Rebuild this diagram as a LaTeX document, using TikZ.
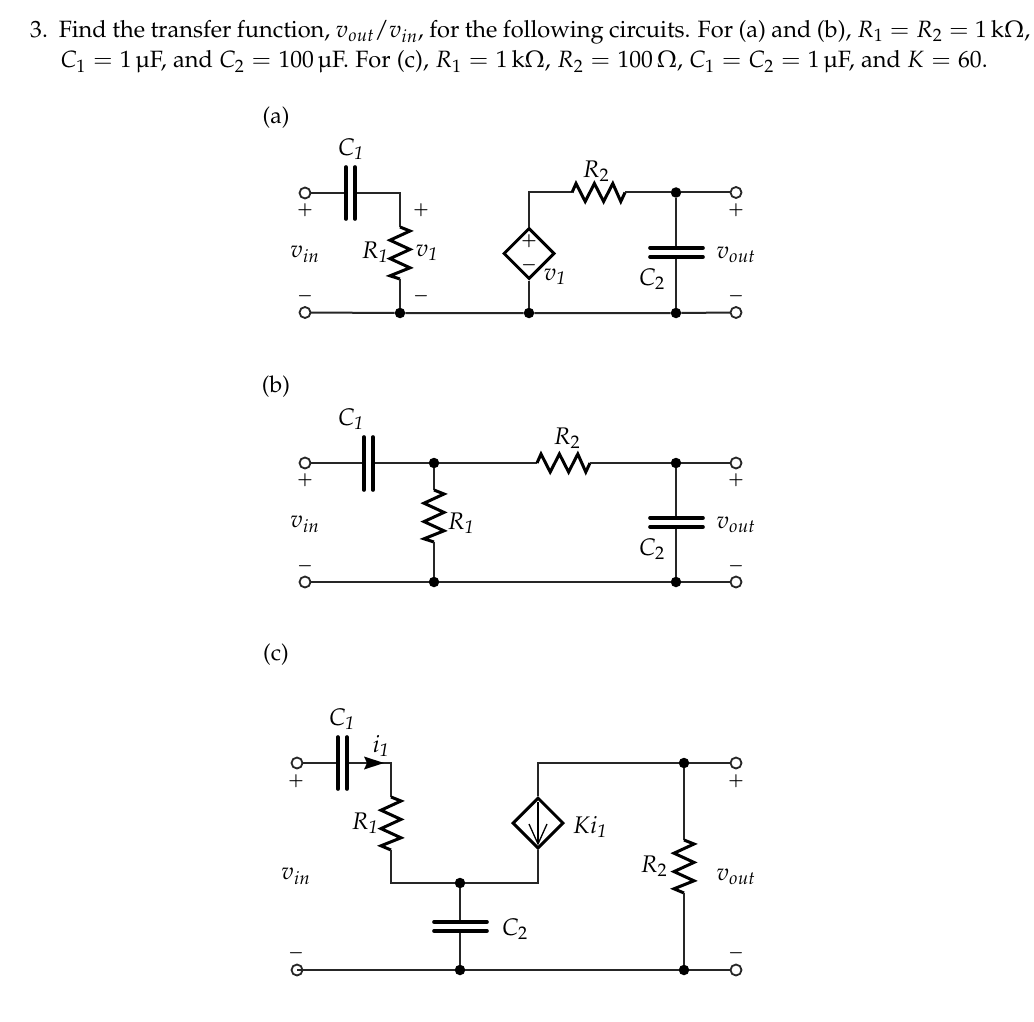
\documentclass[tikz,border=0pt]{standalone}
\usepackage[T1]{fontenc}
\usepackage{mathpazo}
\usepackage{textcomp}
\usetikzlibrary{arrows.meta,shapes.geometric,calc}
\tikzset{
  x=1pt,y=-1pt,
  wire/.style={line width=2pt,draw=black!85},
  plate/.style={line width=3.6pt,draw=black,line cap=round},
  term/.style={circle,draw=black!85,line width=1.8pt,fill=white,minimum size=11pt,inner sep=0pt},
  termopen/.style={circle,draw=black!85,line width=1.8pt,minimum size=11pt,inner sep=0pt},
  dot/.style={circle,fill=black,minimum size=10.5pt,inner sep=0pt},
  src/.style={diamond,draw=black,line width=3pt,fill=white,minimum width=51pt,minimum height=51pt,inner sep=0pt},
  txt/.style={font=\fontsize{23.6}{26}\selectfont,inner sep=0pt},
  hd/.style={font=\fontsize{23}{26}\selectfont,inner sep=0pt},
  lab/.style={font=\fontsize{24}{26}\selectfont,inner sep=0pt},
  sgn/.style={font=\fontsize{16.5}{18}\selectfont\boldmath,inner sep=0pt},
  sgns/.style={font=\fontsize{16.5}{18}\selectfont\boldmath,inner sep=0pt},
  rv/.style={line width=3pt,draw=black,line join=miter,to path={-- ++(10,4) -- ++(-20,9.2) -- ++(20,9.2) -- ++(-20,9.2) -- ++(20,9.2) -- ++(-20,8) -- (\tikztotarget)}},
  rh/.style={line width=3pt,draw=black,line join=miter,to path={-- ++(4,-9) -- ++(9.2,18) -- ++(9.2,-18) -- ++(9.2,18) -- ++(9.2,-18) -- ++(8,18) -- (\tikztotarget)}},
}
\newcommand{\ione}{\mathit{1}}
\begin{document}
\begin{tikzpicture}
\useasboundingbox[fill=white] (0,0) rectangle (1034,1022);
% header
\node[txt,anchor=base west] (q1) at (30,37.5) {\hbox to 1000pt{3.\ \ Find the transfer function, $v_{out}/v_{in}$, for the following circuits. For (a) and (b), $R_1=R_2=1\,\mathrm{k}\Omega$,}};
\node[txt,anchor=base west] (q2) at (60.5,68) {\hbox to 927pt{$C_1=1\,$\textmu F, and $C_2=100\,$\textmu F. For (c), $R_1=1\,\mathrm{k}\Omega$, $R_2=100\,\Omega$, $C_1=C_2=1\,$\textmu F, and $K=60$.}};
% ---------- (a)
\node[hd] (la) at (276,118) {(a)};
\coordinate (ac1a) at (346,193); \coordinate (ac1b) at (355,193);
\coordinate (ac1at) at (346,167); \coordinate (ac1ab) at (346,219);
\coordinate (ac1bt) at (355,167); \coordinate (ac1bb) at (355,219);
\coordinate (acor) at (400,193);
\coordinate (ar1t) at (400,227); \coordinate (ar1b) at (400,279);
\node[dot] (ad1) at (400,313) {};
\node[dot] (ad2) at (529,313) {};
\node[dot] (ad3) at (676,313) {};
\node[dot] (ad4) at (676,192.5) {};
\node[src] (as) at (529,253.5) {};
\coordinate (acor2) at (529,192.5);
\coordinate (ar2l) at (572,192.5); \coordinate (ar2r) at (625,192.5);
\coordinate (ac2t) at (676,248); \coordinate (ac2b) at (676,257);
\coordinate (ac2tl) at (650,248); \coordinate (ac2tr) at (703,248);
\coordinate (ac2bl) at (650,257); \coordinate (ac2br) at (703,257);
\draw[wire] (305,193) coordinate (ati) -- (ac1a);
\draw[wire] (ac1b) -- (acor) -- (ar1t);
\draw[rv] (ar1t) to (ar1b);
\draw[wire] (ar1b) -- (ad1);
\draw[wire] (as.north) -- (acor2) -- (ar2l);
\draw[rh] (ar2l) to (ar2r);
\draw[wire] (ar2r) -- (ad4);
\draw[wire] (as.south) -- (ad2);
\draw[wire] (ad4) -- (ac2t); \draw[wire] (ac2b) -- (ad3);
\draw[plate] (ac1at) -- (ac1ab); \draw[plate] (ac1bt) -- (ac1bb);
\draw[plate] (ac2tl) -- (ac2tr); \draw[plate] (ac2bl) -- (ac2br);
\draw[wire] (305,312.5) coordinate (abi) -- (ad1) -- (ad2) -- (ad3);
\draw[wire] (ad4) -- (736,192.5) coordinate (ato);
\draw[wire] (ad3) -- (736,312.5) coordinate (abo);
\node[term] (at1) at (ati) {}; \node[term] (at2) at (abi) {};
\node[term] (at3) at (ato) {}; \node[term] (at4) at (abo) {};
\node[sgn] (ap1) at (305,210) {$+$}; \node[sgn] (am1) at (305,296) {$-$};
\node[sgn] (ap2) at (421,210) {$+$}; \node[sgn] (am2) at (421,296) {$-$};
\node[sgn] (ap3) at (736,210) {$+$}; \node[sgn] (am3) at (736,296) {$-$};
\node[sgns] (as1) at (529,241) {$+$};
\node[sgns] (as2) at (529,265) {$-$};
\node[lab] (avi) at (305,254) {$v_{in}$};
\node[lab] (avo) at (736,255) {$v_{out}$};
\node[lab] (ac1) at (351,149) {$C_{\ione}$};
\node[lab] (ar1) at (375,252) {$R_{\ione}$};
\node[lab] (av1) at (427,253) {$v_{\ione}$};
\node[lab] (ar2) at (596,171) {$R_2$};
\node[lab] (ac2) at (652,279) {$C_2$};
\node[lab] (av2) at (555,277) {$v_{\ione}$};
% ---------- (b)
\node[hd] (lb) at (276,387) {(b)};
\coordinate (bc1a) at (364,463); \coordinate (bc1b) at (373,463);
\coordinate (bc1at) at (364,437); \coordinate (bc1ab) at (364,490);
\coordinate (bc1bt) at (373,437); \coordinate (bc1bb) at (373,490);
\node[dot] (bd1) at (434,463) {};
\node[dot] (bd2) at (434,582) {};
\node[dot] (bd3) at (676,463) {};
\node[dot] (bd4) at (676,582) {};
\coordinate (br1t) at (434,490); \coordinate (br1b) at (434,542);
\coordinate (br2l) at (537,463); \coordinate (br2r) at (590,463);
\coordinate (bc2t) at (676,518); \coordinate (bc2b) at (676,527);
\coordinate (bc2tl) at (650,518); \coordinate (bc2tr) at (703,518);
\coordinate (bc2bl) at (650,527); \coordinate (bc2br) at (703,527);
\draw[wire] (305,463) coordinate (bti) -- (bc1a);
\draw[wire] (bc1b) -- (bd1) -- (br2l);
\draw[rh] (br2l) to (br2r);
\draw[wire] (br2r) -- (bd3) -- (736,463) coordinate (bto);
\draw[wire] (bd1) -- (br1t);
\draw[rv] (br1t) to (br1b);
\draw[wire] (br1b) -- (bd2);
\draw[wire] (305,582) coordinate (bbi) -- (bd2) -- (bd4) -- (736,582) coordinate (bbo);
\draw[wire] (bd3) -- (bc2t); \draw[wire] (bc2b) -- (bd4);
\draw[plate] (bc1at) -- (bc1ab); \draw[plate] (bc1bt) -- (bc1bb);
\draw[plate] (bc2tl) -- (bc2tr); \draw[plate] (bc2bl) -- (bc2br);
\node[term] (bt1) at (bti) {}; \node[term] (bt2) at (bbi) {};
\node[term] (bt3) at (bto) {}; \node[term] (bt4) at (bbo) {};
\node[sgn] (bp1) at (305,480) {$+$}; \node[sgn] (bm1) at (305,566) {$-$};
\node[sgn] (bp3) at (736,480) {$+$}; \node[sgn] (bm3) at (736,566) {$-$};
\node[lab] (bvi) at (305,524) {$v_{in}$};
\node[lab] (bvo) at (736,525) {$v_{out}$};
\node[lab] (bc1) at (351,419) {$C_{\ione}$};
\node[lab] (br1) at (461,523) {$R_{\ione}$};
\node[lab] (br2) at (567,438) {$R_2$};
\node[lab] (bc2) at (652,549) {$C_2$};
% ---------- (c)
\node[hd] (lc) at (276,655) {(c)};
\coordinate (cc1a) at (338,763); \coordinate (cc1b) at (347,763);
\coordinate (cc1at) at (338,737); \coordinate (cc1ab) at (338,789);
\coordinate (cc1bt) at (347,737); \coordinate (cc1bb) at (347,789);
\coordinate (ccor) at (391,763);
\coordinate (cr1t) at (391,797); \coordinate (cr1b) at (391,850);
\coordinate (ccor2) at (391,883);
\node[dot] (cd1) at (460,883) {};
\node[dot] (cd2) at (460,970) {};
\node[dot] (cd3) at (684,763) {};
\node[dot] (cd4) at (684,970) {};
\node[src] (cs) at (538,823) {};
\coordinate (ccor3) at (538,763); \coordinate (ccor4) at (538,883);
\coordinate (cr2t) at (684,840); \coordinate (cr2b) at (684,893);
\coordinate (cc2t) at (460,922); \coordinate (cc2b) at (460,931);
\coordinate (cc2tl) at (434,922); \coordinate (cc2tr) at (487,922);
\coordinate (cc2bl) at (434,931); \coordinate (cc2br) at (487,931);
\draw[wire] (297,763) coordinate (cti) -- (cc1a);
\draw[wire] (cc1b) -- (ccor) -- (cr1t);
\draw[rv] (cr1t) to (cr1b);
\draw[wire] (cr1b) -- (ccor2) -- (cd1) -- (ccor4) -- (cs.south);
\draw[wire] (cs.north) -- (ccor3) -- (cd3) -- (736,763) coordinate (cto);
\draw[wire] (cd3) -- (cr2t);
\draw[rv] (cr2t) to (cr2b);
\draw[wire] (cr2b) -- (cd4);
\draw[wire] (cd1) -- (cc2t); \draw[wire] (cc2b) -- (cd2);
\draw[wire] (297,970) coordinate (cbi) -- (cd2) -- (cd4) -- (736,970) coordinate (cbo);
\draw[plate] (cc1at) -- (cc1ab); \draw[plate] (cc1bt) -- (cc1bb);
\draw[plate] (cc2tl) -- (cc2tr); \draw[plate] (cc2bl) -- (cc2br);
\coordinate (carr1) at (364,756.5); \coordinate (carr2) at (384,763); \coordinate (carr3) at (364,769.5);
\fill[black] (carr1) -- (carr2) -- (carr3) -- (367,763) -- cycle;
\node[term] (ct1) at (cti) {}; \node[termopen] (ct2) at (cbi) {};
\node[term] (ct3) at (cto) {}; \node[term] (ct4) at (cbo) {};
\draw[line width=1.3pt] (cs.north) ++(0,6) coordinate (ca1) -- ($(cs.south)+(0,-6)$) coordinate (ca2);
\draw[line width=1.3pt] ($(ca2)+(-9,-20)$) coordinate (ca3) -- (ca2) -- ($(ca2)+(9,-20)$) coordinate (ca4);
\node[sgn] (cp1) at (296,781) {$+$}; \node[sgn] (cm1) at (296,953) {$-$};
\node[sgn] (cp3) at (736,781) {$+$}; \node[sgn] (cm3) at (736,953) {$-$};
\node[lab] (cvi) at (296,876) {$v_{in}$};
\node[lab] (cvo) at (736,877) {$v_{out}$};
\node[lab] (cc1) at (342,719) {$C_{\ione}$};
\node[lab] (ci1) at (381,746) {$i_{\ione}$};
\node[lab] (cr1) at (365,823) {$R_{\ione}$};
\node[lab] (cki) at (590,827) {$Ki_{\ione}$};
\node[lab] (cr2) at (654,866) {$R_2$};
\node[lab] (cc2) at (515,929) {$C_2$};
\end{tikzpicture}
\end{document}
